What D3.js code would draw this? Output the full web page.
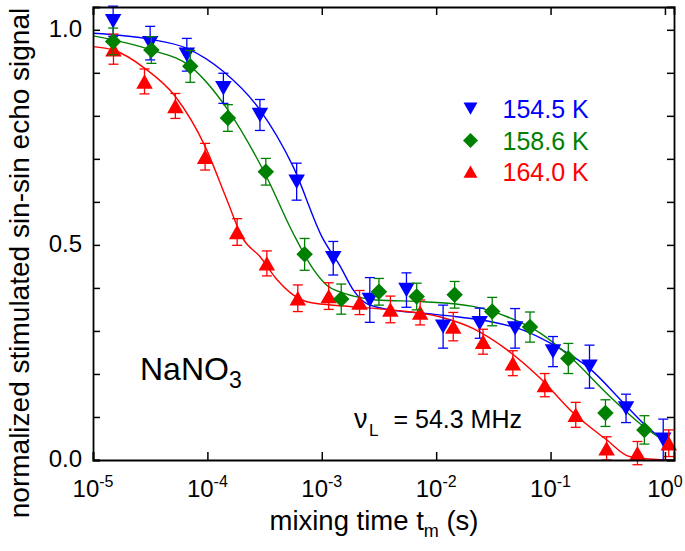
<!DOCTYPE html>
<html><head><meta charset="utf-8">
<script src="https://cdn.jsdelivr.net/npm/d3@7"></script>
<style>body{margin:0;background:#fff}svg{display:block}text{font-family:"Liberation Sans",Arial,sans-serif}</style>
</head><body><svg id="c" width="685" height="551"></svg>
<script>
// ---- data ----
const xTicks = [1e-5, 1e-4, 1e-3, 1e-2, 1e-1, 1];
const xTickExps = ["-5", "-4", "-3", "-2", "-1", "0"];
const yTicks = [0, 0.1, 0.2, 0.3, 0.4, 0.5, 0.6, 0.7, 0.8, 0.9, 1.0];
const yTickLabels = ["0.0", "0.5", "1.0"];
const seriesNames = ["154.5 K", "158.6 K", "164.0 K"];

const blueT = [1.50e-5, 3.16e-5, 6.61e-5, 1.38e-4, 2.88e-4, 6.03e-4, 1.26e-3, 2.63e-3, 5.50e-3, 1.15e-2, 2.40e-2, 4.90e-2, 0.105, 0.219, 0.457, 0.966];
const blueV = [1.02, 0.969, 0.942, 0.864, 0.802, 0.647, 0.469, 0.372, 0.395, 0.310, 0.318, 0.306, 0.252, 0.217, 0.120, 0.047];
const blueE = [0.035, 0.039, 0.038, 0.035, 0.036, 0.043, 0.039, 0.052, 0.040, 0.050, 0.035, 0.046, 0.035, 0.050, 0.033, 0.048];

const greenT = [1.50e-5, 3.24e-5, 7.08e-5, 1.51e-4, 3.24e-4, 7.08e-4, 1.48e-3, 3.16e-3, 6.76e-3, 1.45e-2, 3.09e-2, 6.61e-2, 0.143, 0.302, 0.661];
const greenV = [0.973, 0.953, 0.915, 0.795, 0.670, 0.478, 0.374, 0.391, 0.380, 0.384, 0.345, 0.309, 0.236, 0.109, 0.070];
const greenE = [0.031, 0.031, 0.037, 0.031, 0.031, 0.037, 0.035, 0.031, 0.031, 0.031, 0.033, 0.035, 0.035, 0.031, 0.033];

const redT = [1.51e-5, 2.82e-5, 5.25e-5, 9.55e-5, 1.82e-4, 3.31e-4, 6.17e-4, 1.15e-3, 2.14e-3, 3.98e-3, 7.24e-3, 1.41e-2, 2.57e-2, 4.68e-2, 8.91e-2, 0.166, 0.309, 0.575, 1.08];
const redV = [0.955, 0.880, 0.823, 0.705, 0.530, 0.457, 0.376, 0.381, 0.366, 0.350, 0.343, 0.310, 0.275, 0.225, 0.174, 0.105, 0.027, 0.016, 0.039];
const redE = [0.035, 0.029, 0.029, 0.031, 0.031, 0.029, 0.031, 0.031, 0.028, 0.031, 0.029, 0.033, 0.029, 0.029, 0.027, 0.029, 0.027, 0.027, 0.031];

// fit curves
const blueFitT = [1e-5, 3.16e-5, 6.61e-5, 1.38e-4, 2.88e-4, 5.62e-4, 1.02e-3, 1.45e-3, 1.91e-3, 2.45e-3, 3.98e-3, 7.76e-3, 1.51e-2, 2.95e-2, 5.75e-2, 0.112, 0.219, 0.437, 0.692, 1.17];
const blueFitV = [0.992, 0.978, 0.957, 0.903, 0.814, 0.682, 0.515, 0.450, 0.393, 0.364, 0.349, 0.341, 0.333, 0.322, 0.302, 0.264, 0.213, 0.132, 0.078, 0.031];
const greenFitT = [1e-5, 3.24e-5, 7.08e-5, 1.51e-4, 3.24e-4, 5.62e-4, 8.51e-4, 1.10e-3, 1.55e-3, 2.14e-3, 3.02e-3, 7.76e-3, 2.09e-2, 4.17e-2, 8.13e-2, 0.158, 0.309, 0.603, 1.17];
const greenFitV = [0.986, 0.953, 0.915, 0.814, 0.662, 0.527, 0.442, 0.407, 0.388, 0.378, 0.372, 0.368, 0.357, 0.333, 0.295, 0.233, 0.155, 0.085, 0.031];
const redFitT = [1e-5, 1.51e-5, 2.82e-5, 5.25e-5, 9.55e-5, 1.48e-4, 2.04e-4, 2.88e-4, 4.07e-4, 5.62e-4, 7.94e-4, 1.55e-3, 3.98e-3, 1.07e-2, 2.09e-2, 4.17e-2, 8.13e-2, 0.158, 0.309, 0.490, 0.851, 1.17];
const redFitV = [0.961, 0.953, 0.911, 0.845, 0.729, 0.605, 0.515, 0.473, 0.419, 0.384, 0.366, 0.358, 0.349, 0.333, 0.306, 0.256, 0.190, 0.109, 0.047, 0.008, 0.001, 0.0];

const colors = ["#0000ff", "#008000", "#ff0000"];
const symbols = ["down", "diamond", "up"];

// ---- layout ----
const L = 93, R = 674, T = 7, B = 460;
const svg = d3.select("#c");
const x = d3.scaleLog().domain([1e-5, 1.2]).range([L, R]);
const y = d3.scaleLinear().domain([0, 1.053]).range([B, T]);

function symPath(type, s) {
  const w = s, h = s * 0.875;
  if (type === "down") return `M${-w/2},${-h/2}L${w/2},${-h/2}L0,${h/2}Z`;
  if (type === "up") return `M${-w/2},${h/2}L${w/2},${h/2}L0,${-h/2}Z`;
  return `M0,${-w/2}L${w/2},0L0,${w/2}L${-w/2},0Z`;
}

svg.append("clipPath").attr("id", "pc").append("rect")
  .attr("x", L).attr("y", T).attr("width", R - L).attr("height", B - T);

// fit curves
const line = d3.line().x(d => x(d[0])).y(d => y(d[1])).curve(d3.curveMonotoneX);
const fits = [[blueFitT, blueFitV], [greenFitT, greenFitV], [redFitT, redFitV]];
fits.forEach((f, i) => {
  svg.append("path").attr("clip-path", "url(#pc)")
    .datum(f[0].map((t, k) => [t, f[1][k]]))
    .attr("d", line).attr("fill", "none").attr("stroke", colors[i]).attr("stroke-width", 1.4);
});

// points
const series = [
  {t: blueT, v: blueV, e: blueE, c: colors[0], s: symbols[0]},
  {t: redT, v: redV, e: redE, c: colors[2], s: symbols[2]},
  {t: greenT, v: greenV, e: greenE, c: colors[1], s: symbols[1]}
];
series.forEach(se => {
  const g = svg.append("g");
  const data = se.t.map((t, k) => ({t, v: se.v[k], e: se.e[k]}));
  const eb = g.selectAll(".eb").data(data).enter().append("g")
    .attr("stroke", se.c).attr("stroke-width", 1.3).attr("fill", "none");
  eb.append("line").attr("x1", d => x(d.t)).attr("x2", d => x(d.t))
    .attr("y1", d => y(d.v - d.e)).attr("y2", d => y(d.v + d.e));
  eb.append("line").attr("x1", d => x(d.t) - 5).attr("x2", d => x(d.t) + 5)
    .attr("y1", d => y(d.v - d.e)).attr("y2", d => y(d.v - d.e));
  eb.append("line").attr("x1", d => x(d.t) - 5).attr("x2", d => x(d.t) + 5)
    .attr("y1", d => y(d.v + d.e)).attr("y2", d => y(d.v + d.e));
  g.selectAll(".m").data(data).enter().append("path")
    .attr("transform", d => `translate(${x(d.t)},${y(d.v)})`)
    .attr("d", symPath(se.s, 16.5)).attr("fill", se.c);
});

// axes (ticks inward)
const axB = svg.append("g").attr("transform", `translate(0,${B})`)
  .call(d3.axisBottom(x).tickValues(xTicks).tickSize(-8).tickFormat(""));
const axT = svg.append("g").attr("transform", `translate(0,${T})`)
  .call(d3.axisTop(x).tickValues(xTicks).tickSize(-8).tickFormat(""));
const axL = svg.append("g").attr("transform", `translate(${L},0)`)
  .call(d3.axisLeft(y).tickValues(yTicks).tickSize(-7).tickFormat(""));
const axR = svg.append("g").attr("transform", `translate(${R},0)`)
  .call(d3.axisRight(y).tickValues(yTicks).tickSize(-7).tickFormat(""));
[axB, axT, axL, axR].forEach(a => {
  a.selectAll("path.domain").attr("stroke", "#000").attr("stroke-width", 1.8);
  a.selectAll(".tick line").attr("stroke", "#000").attr("stroke-width", 1.5);
});

// x tick labels
xTicks.forEach((t, i) => {
  const tx = svg.append("text").attr("x", x(t)).attr("y", 497)
    .attr("text-anchor", "middle").attr("font-size", 24).attr("fill", "#000");
  tx.append("tspan").text("10");
  tx.append("tspan").attr("dy", -10).attr("font-size", 16).text(xTickExps[i]);
});
// y tick labels
[0, 0.5, 1.0].forEach((v, i) => {
  svg.append("text").attr("x", 82).attr("y", y(v) + 7).attr("text-anchor", "end")
    .attr("font-size", 24).attr("fill", "#000").text(yTickLabels[i]);
});

// axis titles
const xt = svg.append("text").attr("x", 374).attr("y", 530).attr("text-anchor", "middle")
  .attr("font-size", 27.5).attr("fill", "#000");
xt.append("tspan").text("mixing time t");
xt.append("tspan").attr("dy", 7).attr("font-size", 18).text("m");
xt.append("tspan").attr("dy", -7).text(" (s)");

svg.append("text").attr("transform", "translate(29,263) rotate(-90)")
  .attr("text-anchor", "middle").attr("font-size", 28).attr("fill", "#000")
  .text("normalized stimulated sin-sin echo signal");

// legend
const legY = [108.5, 140.5, 171.5];
[0, 1, 2].forEach((i, k) => {
  svg.append("path").attr("transform", `translate(470.5,${legY[k]})`)
    .attr("d", symPath(symbols[i], i === 1 ? 15 : 14)).attr("fill", colors[i]);
  svg.append("text").attr("x", 502.5).attr("y", legY[k] + 9).attr("font-size", 25)
    .attr("fill", colors[i]).text(seriesNames[i]);
});

// annotations
const na = svg.append("text").attr("x", 140).attr("y", 380).attr("font-size", 32).attr("fill", "#000");
na.append("tspan").text("NaNO");
na.append("tspan").attr("dy", 8).attr("font-size", 23).text("3");

svg.append("text").attr("x", 354).attr("y", 428).attr("font-size", 27).attr("fill", "#000").text("ν");
svg.append("text").attr("x", 369).attr("y", 436).attr("font-size", 17).attr("fill", "#000").text("L");
svg.append("text").attr("x", 522).attr("y", 428).attr("text-anchor", "end").attr("font-size", 25).attr("fill", "#000").text("= 54.3 MHz");
</script></body></html>
